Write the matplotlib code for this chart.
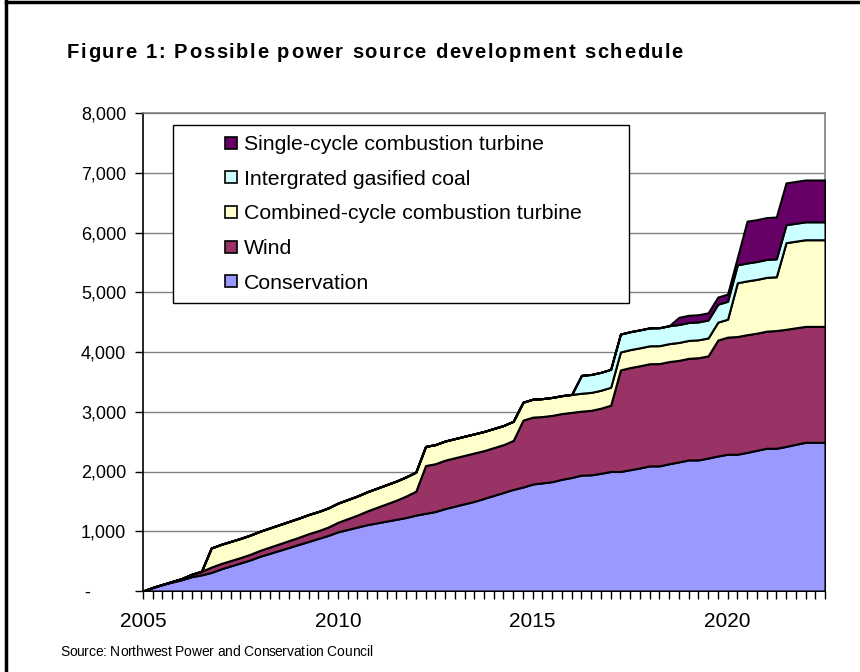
import matplotlib
matplotlib.use("Agg")
import matplotlib.pyplot as plt
from matplotlib.lines import Line2D
from matplotlib.patches import Rectangle
from matplotlib.font_manager import FontProperties
from matplotlib.ticker import FuncFormatter, MultipleLocator

plt.rcParams['font.family'] = ['Liberation Sans', 'DejaVu Sans']

# quarterly points, 2005 Q1 .. 2022 Q3
quarters = [2005 + i / 4 for i in range(71)]

conservation = [
    0, 60, 110, 150, 190, 240, 270, 310, 370, 420,
    470, 520, 580, 630, 680, 730, 780, 830, 880, 930,
    990, 1030, 1070, 1110, 1140, 1170, 1200, 1230, 1270, 1300,
    1330, 1380, 1420, 1460, 1500, 1550, 1600, 1650, 1700, 1740,
    1790, 1810, 1830, 1870, 1900, 1940, 1944, 1970, 2000, 2000,
    2030, 2060, 2094, 2094, 2130, 2160, 2194, 2194, 2225, 2260,
    2289, 2289, 2320, 2355, 2389, 2389, 2420, 2455, 2489, 2489, 2489,
]
wind = [
    0, 0, 0, 10, 20, 40, 60, 90, 90, 90,
    90, 95, 100, 105, 110, 115, 120, 130, 130, 140,
    160, 180, 200, 230, 260, 290, 320, 360, 400, 800,
    800, 810, 810, 810, 810, 800, 800, 800, 820, 1120,
    1120, 1110, 1110, 1100, 1090, 1070, 1080, 1090, 1110, 1700,
    1710, 1710, 1710, 1712, 1710, 1700, 1700, 1710, 1710, 1940,
    1960, 1970, 1970, 1960, 1960, 1970, 1960, 1950, 1940, 1940, 1940,
]
combined_cycle = [0] * 7 + [320] * 32 + [300] * 22 + [900] * 5 + [1450] * 5
gasified_coal = [0] * 45 + [300] * 26
single_cycle = [0] * 55 + [120] * 7 + [700] * 9

labels = [
    'Conservation',
    'Wind',
    'Combined-cycle combustion turbine',
    'Intergrated gasified coal',
    'Single-cycle combustion turbine',
]
colors = ['#9999FF', '#993366', '#FFFFCC', '#CCFFFF', '#660066']

W, H = 860, 672
fig = plt.figure(figsize=(W / 100, H / 100), dpi=100)
ax = fig.add_axes([143 / W, 81 / H, 682 / W, 478 / H])

ax.stackplot(quarters, conservation, wind, combined_cycle, gasified_coal, single_cycle,
             colors=colors, edgecolor='black', linewidth=1.5, zorder=3)

ax.set_xlim(2005, 2022.5)
ax.set_ylim(0, 8000)
ax.yaxis.set_major_locator(MultipleLocator(1000))
ax.yaxis.set_major_formatter(FuncFormatter(lambda v, p: '-       ' if v == 0 else f'{v:,.0f}'))
ax.grid(axis='y', color='#808080', linewidth=1.0, zorder=1)

ax.set_xticks([2005, 2010, 2015, 2020])
ax.xaxis.set_minor_locator(MultipleLocator(0.25))
ax.tick_params(axis='x', which='both', direction='out', length=6, width=1, pad=9,
               labelsize=15)
ax.tick_params(axis='y', direction='out', length=6, width=1, pad=6, labelsize=13)

for side in ['top', 'right']:
    ax.spines[side].set_color('#808080')
    ax.spines[side].set_linewidth(1.2)
for side in ['left', 'bottom']:
    ax.spines[side].set_color('black')
    ax.spines[side].set_linewidth(1.2)

# legend box drawn separately so the padding matches the original
ax.add_patch(Rectangle((30 / 682, 288 / 478), 456 / 682, 178 / 478, transform=ax.transAxes,
                       facecolor='white', edgecolor='black', linewidth=1.0, zorder=4))
handles = [Line2D([], [], linestyle='none', marker='s', markersize=8,
                  markerfacecolor=c, markeredgecolor='black', markeredgewidth=1.2)
           for c in colors]
leg = ax.legend(handles[::-1], labels[::-1], loc='upper left',
                bbox_to_anchor=(82 / 682, (591 - 135) / 478), fontsize=15.3, frameon=False,
                borderpad=0, labelspacing=0.74, handlelength=0.6,
                handletextpad=0.3, borderaxespad=0)
leg.set_zorder(5)


def tracked_text(s, x_px, y_px, width_px, size, weight='normal'):
    # lay out characters one by one to get the wide letter spacing of the original
    fp = FontProperties(family='Liberation Sans', size=size, weight=weight)
    renderer = fig.canvas.get_renderer()
    base = renderer.get_text_width_height_descent('ii', fp, ismath=False)[0]
    widths = [renderer.get_text_width_height_descent('i' + ch + 'i', fp, ismath=False)[0] - base
              for ch in s]
    extra = (width_px - sum(widths)) / (len(s) - 1)
    x = x_px
    for ch, w in zip(s, widths):
        fig.text(x / W, 1 - y_px / H, ch, fontproperties=fp, va='baseline', ha='left')
        x += w + extra


tracked_text('Figure 1: Possible power source development schedule', 67, 58, 616, 14.5, 'bold')
tracked_text('Source: Northwest Power and Conservation Council', 60, 656, 312, 10)

# outer frame (top and left edges of the figure box)
fig.add_artist(Line2D([6 / W, 6 / W], [0, 1], color='black', linewidth=2.5,
                      transform=fig.transFigure))
fig.add_artist(Line2D([6 / W, 1], [1 - 2 / H, 1 - 2 / H], color='black',
                      linewidth=2.5, transform=fig.transFigure))

fig.savefig('out.png', dpi=100)
